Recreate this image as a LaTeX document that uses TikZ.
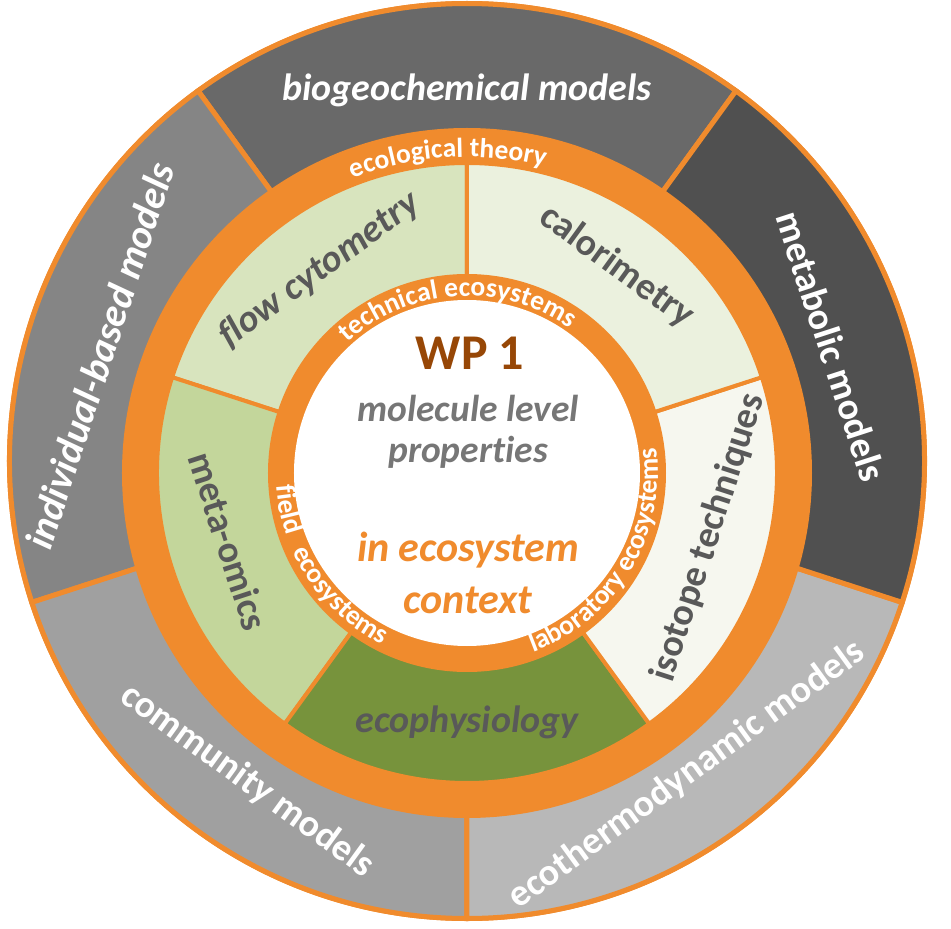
\documentclass[tikz,border=0pt]{standalone}
\usepackage{fontspec}
\setmainfont{Carlito}[Ligatures=CommonOff]
\usepackage{xcolor}
\usepackage{tikz}
\usetikzlibrary{decorations.text}

\definecolor{orng}{RGB}{240,139,45}
\definecolor{biogeo}{RGB}{105,105,105}
\definecolor{indiv}{RGB}{133,133,133}
\definecolor{commun}{RGB}{160,160,160}
\definecolor{thermo}{RGB}{184,184,184}
\definecolor{metab}{RGB}{80,80,80}
\definecolor{flowc}{RGB}{216,228,190}
\definecolor{calor}{RGB}{235,241,222}
\definecolor{isotp}{RGB}{246,247,239}
\definecolor{omics}{RGB}{195,214,155}
\definecolor{ecoph}{RGB}{119,147,60}
\definecolor{txtgray}{RGB}{89,89,89}
\definecolor{molgray}{RGB}{118,118,118}
\definecolor{wpbrown}{RGB}{151,71,6}

\newcommand{\ringfont}{\fontsize{27.5}{27.5}\selectfont\bfseries}

\begin{document}
\begin{tikzpicture}[x=1pt,y=1pt]
\tikzstyle{every node}=[font=\bfseries]
\tikzstyle{model}=[text=white, font=\fontsize{38}{40}\selectfont\bfseries]
\tikzstyle{method}=[text=txtgray, font=\fontsize{38}{40}\selectfont\bfseries]
\tikzstyle{outerslice}=[draw=orng, line width=5pt]
\tikzstyle{innerslice}=[draw=orng, line width=4pt]
\tikzstyle{ringtext}=[decorate, decoration={text along path, text align=center, text color=white}]
\useasboundingbox (-467,-456) rectangle (484,473);

% outer ring of models
\begin{scope}[shift={(0,12)}]
\fill [orng] (0,0) circle (460);
\filldraw [outerslice, fill=biogeo] (0,0) -- (54:457.5) arc[start angle=54, end angle=126, radius=457.5] -- cycle;
\filldraw [outerslice, fill=indiv] (0,0) -- (126:457.5) arc[start angle=126, end angle=198, radius=457.5] -- cycle;
\filldraw [outerslice, fill=commun] (0,0) -- (198:457.5) arc[start angle=198, end angle=270, radius=457.5] -- cycle;
\filldraw [outerslice, fill=thermo] (0,0) -- (270:457.5) arc[start angle=270, end angle=342, radius=457.5] -- cycle;
\filldraw [outerslice, fill=metab] (0,0) -- (-18:457.5) arc[start angle=-18, end angle=54, radius=457.5] -- cycle;
\node [model] (biogeo) at (90:371) {\itshape biogeochemical models};
\node [model, rotate=72, font=\fontsize{40}{40}\selectfont\bfseries] (indiv) at (164:382) {\itshape individual-based models};
\node [model, rotate=-36] (commun) at (235.5:388) {community models};
\node [model, rotate=36] (thermo) at (305:383) {ecothermodynamic models};
\node [model, rotate=-72] (metab) at (17.5:382) {metabolic models};
\end{scope}

% ecological theory ring
\fill [orng] (0,0) circle (345);
\path [ringtext, decoration={text={|\ringfont|ecological theory}}] (133.5:316) arc[start angle=133.5, end angle=53.5, radius=316];

% methods
\filldraw [innerslice, fill=flowc] (0,0) -- (90:310) arc[start angle=90, end angle=162, radius=310] -- cycle;
\filldraw [innerslice, fill=omics] (0,0) -- (162:310) arc[start angle=162, end angle=234, radius=310] -- cycle;
\filldraw [innerslice, fill=ecoph] (0,0) -- (234:310) arc[start angle=234, end angle=306, radius=310] -- cycle;
\filldraw [innerslice, fill=isotp] (0,0) -- (306:310) arc[start angle=306, end angle=378, radius=310] -- cycle;
\filldraw [innerslice, fill=calor] (0,0) -- (18:310) arc[start angle=18, end angle=90, radius=310] -- cycle;
\node [method, rotate=36] (flow) at (126:251) {\itshape flow cytometry};
\node [method, rotate=-72] (omics) at (196:248) {meta-omics};
\node [method] (ecoph) at (270:249) {\itshape ecophysiology};
\node [method, rotate=72] (isotp) at (345:250) {isotope techniques};
\node [method, rotate=-36] (calor) at (54:255) {calorimetry};

% ecosystems ring
\fill [orng] (0,0) circle (199);
\fill [white] (0,0) circle (173);
\path [ringtext, decoration={text={|\ringfont|technical ecosystems}}] (150:177) arc[start angle=150, end angle=37, radius=177];
\path [ringtext, decoration={text={|\ringfont|field}}] (176:191) arc[start angle=176, end angle=207, radius=191];
\path [ringtext, decoration={text={|\ringfont|ecosystems}}] (200:191) arc[start angle=200, end angle=248, radius=191];
\path [ringtext, decoration={text={|\ringfont|laboratory ecosystems}}] (284:191) arc[start angle=284, end angle=374, radius=191];

% centre
\node [text=wpbrown, font=\fontsize{50}{50}\selectfont\bfseries] (wp) at (3,120) {WP 1};
\node [text=molgray, font=\fontsize{37.5}{37.5}\selectfont\bfseries\itshape] (mol) at (1,65) {molecule level};
\node [text=molgray, font=\fontsize{37.5}{37.5}\selectfont\bfseries\itshape] (prop) at (1,21) {properties};
\node [text=orng, font=\fontsize{42}{42}\selectfont\bfseries\itshape] (ineco) at (1,-77) {in ecosystem};
\node [text=orng, font=\fontsize{42}{42}\selectfont\bfseries\itshape] (ctx) at (1,-127) {context};
\end{tikzpicture}
\end{document}
